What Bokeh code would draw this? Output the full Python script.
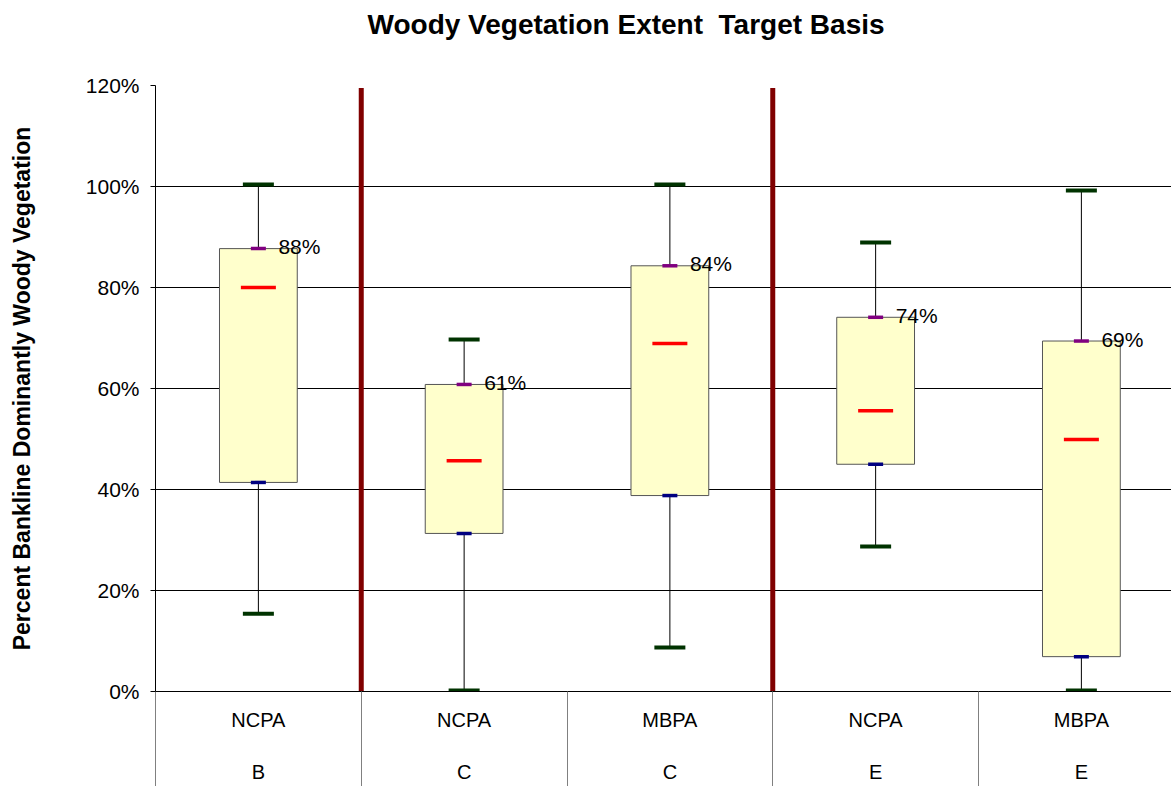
from bokeh.plotting import figure
from bokeh.models import (FixedTicker, NumeralTickFormatter, ColumnDataSource,
                          LinearAxis, Title)
from bokeh.core.properties import value
from bokeh.embed import file_html
from bokeh.resources import INLINE

# ---- data ----
groups = ["NCPA", "NCPA", "MBPA", "NCPA", "MBPA"]
reaches = ["B", "C", "C", "E", "E"]
whisker_max = [1.004, 0.697, 1.004, 0.889, 0.992]
q3 = [0.877, 0.608, 0.843, 0.741, 0.694]
median = [0.800, 0.457, 0.689, 0.556, 0.499]
q1 = [0.414, 0.313, 0.388, 0.450, 0.069]
whisker_min = [0.154, 0.002, 0.087, 0.287, 0.002]
y_ticks = [0, 0.2, 0.4, 0.6, 0.8, 1.0, 1.2]
divider_positions = [1, 3]          # boundaries between reaches B|C and C|E
title_text = "Woody Vegetation Extent  Target Basis"
y_label = "Percent Bankline Dominantly Woody Vegetation"

FONT = "Liberation Sans"
n = len(groups)
centers = [i + 0.5 for i in range(n)]
boundaries = list(range(n + 1))
q3_labels = [f"{round(v * 100)}%" for v in q3]

src = ColumnDataSource(dict(x=centers, wmax=whisker_max, q3=q3, med=median,
                            q1=q1, wmin=whisker_min, lab=q3_labels))

p = figure(width=1171, height=786, x_range=(0, 4.938), y_range=(0, 1.2),
           output_backend="svg", toolbar_location=None, x_axis_location=None,
           min_border_left=155, min_border_top=85, min_border_right=0,
           min_border_bottom=95, background_fill_color="white",
           border_fill_color="white")
p.outline_line_color = None
p.xgrid.visible = False

# y axis
ya = p.yaxis[0]
ya.ticker = FixedTicker(ticks=y_ticks)
ya.formatter = NumeralTickFormatter(format="0%")
ya.major_label_text_font = FONT
ya.major_label_text_font_size = "21px"
ya.major_label_text_color = "black"
ya.major_tick_out = 5
ya.major_tick_in = 0
ya.minor_tick_line_color = None
ya.axis_line_color = "black"
ya.major_tick_line_color = "black"
ya.major_label_standoff = 11
ya.axis_label = y_label
ya.axis_label_text_font = FONT
ya.axis_label_text_font_size = "23px"
ya.axis_label_text_font_style = "bold"
ya.axis_label_text_color = "black"
ya.axis_label_standoff = 48

p.ygrid.ticker = FixedTicker(ticks=y_ticks)
p.ygrid.grid_line_color = "black"
p.ygrid.grid_line_width = 1

# category axis: labels at centres, separators as long minor ticks at boundaries
xa = LinearAxis(ticker=FixedTicker(ticks=centers, minor_ticks=boundaries))
xa.major_label_overrides = {c: f"{g}\n\n{r}" for c, g, r in zip(centers, groups, reaches)}
xa.major_label_text_font = FONT
xa.major_label_text_font_size = "20px"
xa.major_label_text_color = "black"
xa.major_label_text_align = "center"
xa.major_tick_out = 0
xa.major_tick_in = 0
xa.major_tick_line_color = None
xa.minor_tick_out = 95
xa.minor_tick_in = 0
xa.minor_tick_line_color = "#808080"
xa.axis_line_color = "black"
xa.major_label_standoff = -78
p.add_layout(xa, "below")

# dividers between reaches
p.segment(x0=divider_positions, y0=[1.195] * 2, x1=divider_positions,
          y1=[0] * 2, line_color="#800000", line_width=5)

# boxes
p.vbar(x="x", width=0.378, bottom="q1", top="q3", source=src,
       fill_color="#FFFFCC", line_color="#555555", line_width=1)

# whiskers
p.segment(x0="x", y0="q3", x1="x", y1="wmax", source=src, line_color="black", line_width=1)
p.segment(x0="x", y0="q1", x1="x", y1="wmin", source=src, line_color="black", line_width=1)

# caps and markers
p.scatter(x="x", y="wmax", source=src, marker="dash", size=31, line_width=4, line_color="#003300")
p.scatter(x="x", y="wmin", source=src, marker="dash", size=31, line_width=4, line_color="#003300")
p.scatter(x="x", y="med", source=src, marker="dash", size=35, line_width=3.5, line_color="#FF0000")
p.scatter(x="x", y="q3", source=src, marker="dash", size=15, line_width=3.5, line_color="#800080")
p.scatter(x="x", y="q1", source=src, marker="dash", size=15, line_width=3.5, line_color="#000080")

# Q3 value labels
p.text(x="x", y="q3", text="lab", source=src, x_offset=20, y_offset=-2,
       text_font=value(FONT), text_font_size="21px", text_color="black",
       text_align="left", text_baseline="alphabetic")

# title with a spacer between it and the plot
p.title.text = title_text.replace("  ", " \u00a0")
p.title.text_font = FONT
p.title.text_font_size = "28px"
p.title.text_font_style = "bold"
p.title.text_color = "black"
p.title.align = "left"
p.title.offset = 212
p.title.standoff = 0
p.title.text_line_height = 1.0
spacer = Title(text=" ", text_font_size="40px", standoff=0)
p.above = [spacer] + list(p.above)

open("out.html", "w").write(file_html(p, INLINE))
